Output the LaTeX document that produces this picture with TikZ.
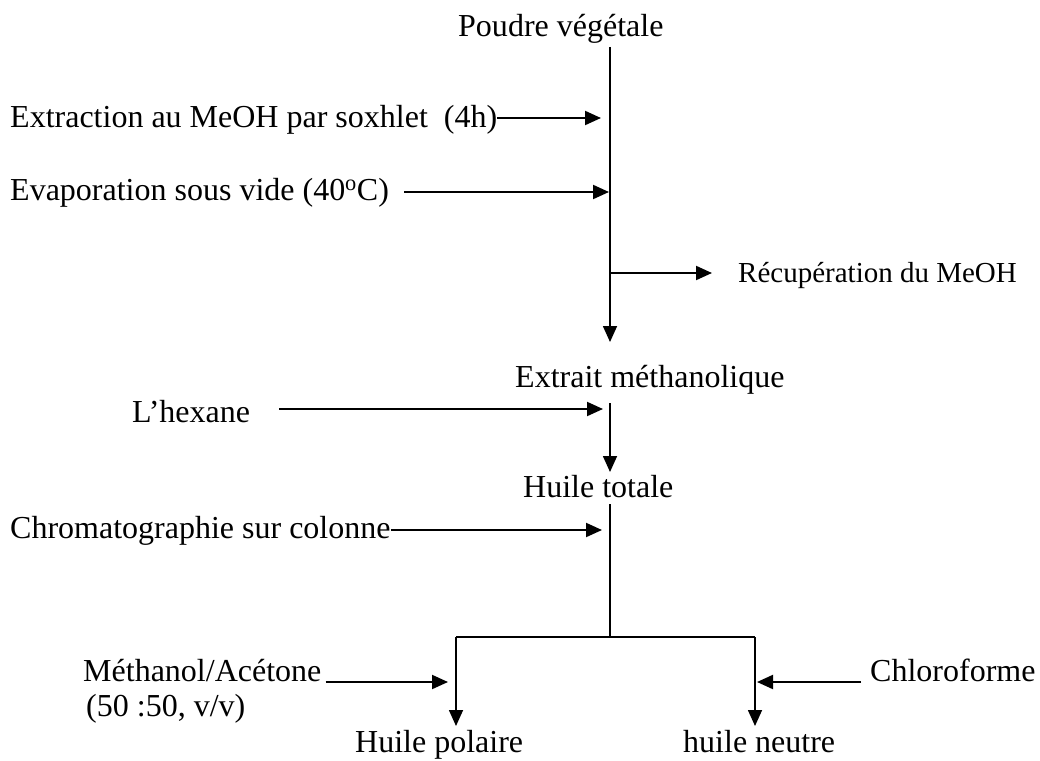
\documentclass[tikz,border=0pt]{standalone}
\usepackage{fontspec}
\setmainfont{Liberation Serif}
\usetikzlibrary{arrows.meta}
\begin{document}
\begin{tikzpicture}[x=1pt,y=-1pt,
  lbl/.style={font=\fontsize{32}{38}\selectfont, inner sep=0pt, anchor=base west},
  smalllbl/.style={font=\fontsize{29}{34}\selectfont, inner sep=0pt, anchor=base west},
  ln/.style={line width=1.6pt},
  thinln/.style={line width=1.2pt},
  arr/.style={line width=2pt, -{Triangle[length=16pt,width=14pt]}},
  varr/.style={line width=1.6pt, -{Triangle[length=16pt,width=14pt]}},
]
\fill[white] (0,0) rectangle (1040,760);
\useasboundingbox (0,0) rectangle (1040,760);

% main stream labels
\node[lbl] (poudre) at (458,37) {Poudre végétale};
\node[lbl] (extrait) at (515,387) {Extrait méthanolique};
\node[lbl] (totale) at (523,497) {Huile totale};
\node[lbl] (polaire) at (355,752) {Huile polaire};
\node[lbl] (neutre) at (683,752) {huile neutre};

% side labels
\node[lbl] (extr) at (10,127) {Extraction au MeOH par soxhlet\ \ (4h)};
\node[lbl] (evap) at (10,200) {Evaporation sous vide (40\textsuperscript{o}C)};
\node[smalllbl] (recup) at (738,282) {Récupération du MeOH};
\node[lbl] (hexane) at (132,422) {L’hexane};
\node[lbl] (chrom) at (10,538) {Chromatographie sur colonne};
\node[lbl] (methanol) at (83,681) {Méthanol/Acétone};
\node[lbl] (ratio) at (86,716) {(50 :50, v/v)};
\node[lbl] (chloro) at (870,681) {Chloroforme};

% coordinates on the stream
\coordinate (top) at (610,47);
\coordinate (a1) at (601,118);
\coordinate (a2) at (609,192);
\coordinate (j1) at (610,273);
\coordinate (r1) at (712,273);
\coordinate (t1) at (610,342);
\coordinate (s2) at (610,403);
\coordinate (a3) at (603,409);
\coordinate (t2) at (610,472);
\coordinate (s3) at (610,504);
\coordinate (a4) at (602,530);
\coordinate (j2) at (610,637);
\coordinate (bl) at (456,637);
\coordinate (br) at (755,637);
\coordinate (tl) at (456,726);
\coordinate (tr) at (755,726);
\coordinate (a5) at (448,682);
\coordinate (a6) at (757,682);

% stream
\draw[varr] (top) -- (t1);
\draw[arr] (j1) -- (r1);
\draw[varr] (s2) -- (t2);
\draw[thinln] (s3) -- (j2);
\draw[ln] (bl) -- (br);
\draw[varr] (bl) -- (tl);
\draw[varr] (br) -- (tr);

% inputs
\draw[arr] (extr.east |- a1) -- (a1);
\draw[arr] ([xshift=15pt]evap.east |- a2) -- (a2);
\draw[arr] ([xshift=29pt]hexane.east |- a3) -- (a3);
\draw[arr] (chrom.east |- a4) -- (a4);
\draw[arr] ([xshift=4pt]methanol.east |- a5) -- (a5);
\draw[arr] ([xshift=-9pt]chloro.west |- a6) -- (a6);
\end{tikzpicture}
\end{document}
